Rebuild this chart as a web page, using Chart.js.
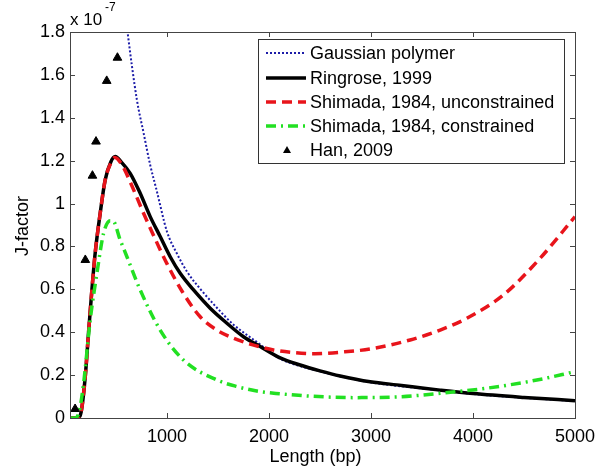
<!DOCTYPE html>
<html>
<head>
<meta charset="utf-8">
<script src="https://cdn.jsdelivr.net/npm/chart.js@4.4.1/dist/chart.umd.min.js"></script>
<style>
  body { margin: 0; background: #fff; }
  #wrap { width: 608px; height: 468px; position: relative; }
</style>
</head>
<body>
<div id="wrap"><canvas id="jChart"></canvas></div>
<script>
// values in units of 1e-7
const xTicks = [1000, 2000, 3000, 4000, 5000];
const yTicks = [0, 0.2, 0.4, 0.6, 0.8, 1, 1.2, 1.4, 1.6, 1.8];

const gaussLen = [590, 614, 706, 771, 836, 900, 1000, 1100, 1200, 1330, 1494, 1653, 1800, 1914, 2000, 2110, 2500, 3000, 3500, 4000, 4500, 5000];
const gaussJ = [1.9, 1.8, 1.483, 1.33, 1.18, 1.06, 0.87, 0.765, 0.68, 0.6, 0.512, 0.435, 0.382, 0.343, 0.31, 0.276, 0.218, 0.166, 0.138, 0.112, 0.094, 0.079];

const ringLen = [50, 130, 160, 199, 232, 265, 297, 346, 395, 451, 493, 560, 640, 738, 836, 934, 1032, 1130, 1261, 1424, 1588, 1751, 1914, 2110, 2306, 2500, 2698, 2992, 3300, 3500, 3678, 4000, 4500, 5000];
const ringJ = [0, 0, 0.03, 0.19, 0.40, 0.60, 0.77, 0.955, 1.11, 1.195, 1.219, 1.19, 1.141, 1.048, 0.939, 0.846, 0.752, 0.675, 0.597, 0.512, 0.442, 0.379, 0.333, 0.28, 0.247, 0.22, 0.196, 0.169, 0.152, 0.14, 0.13, 0.114, 0.096, 0.081];

const unconLen = [50, 130, 160, 199, 232, 265, 297, 346, 395, 451, 490, 560, 650, 771, 880, 1000, 1150, 1326, 1490, 1653, 1850, 2045, 2250, 2450, 2728, 2992, 3384, 3678, 3940, 4299, 4658, 5000];
const unconJ = [0, 0, 0.03, 0.19, 0.40, 0.60, 0.77, 0.955, 1.11, 1.19, 1.215, 1.18, 1.09, 0.955, 0.84, 0.72, 0.59, 0.472, 0.41, 0.372, 0.34, 0.317, 0.305, 0.30, 0.308, 0.322, 0.364, 0.41, 0.465, 0.574, 0.745, 0.939];

const conLen = [50, 100, 140, 183, 248, 314, 379, 444, 470, 542, 608, 738, 934, 1163, 1490, 1700, 1914, 2110, 2404, 2829, 3286, 3678, 4136, 4626, 5000];
const conJ = [0, 0, 0.03, 0.16, 0.457, 0.675, 0.861, 0.92, 0.92, 0.83, 0.752, 0.597, 0.41, 0.27, 0.177, 0.145, 0.123, 0.113, 0.102, 0.095, 0.099, 0.115, 0.139, 0.177, 0.216];

const hanLen = [100, 200, 270, 305, 410, 515];
const hanJ = [0.042, 0.737, 1.13, 1.289, 1.572, 1.68];

const FONT = "'Liberation Sans', Arial, sans-serif";

function pts(xs, ys) {
  return xs.map((x, i) => ({ x: x, y: ys[i] }));
}

const frame = {
  id: "frame",
  afterDraw(chart) {
    const c = chart.ctx;
    const a = chart.chartArea;
    const xs = chart.scales.x;
    const ys = chart.scales.y;
    c.save();
    c.strokeStyle = "#444";
    c.lineWidth = 1;
    c.strokeRect(a.left + 0.5, a.top + 0.5, a.right - a.left, a.bottom - a.top);
    c.beginPath();
    xTicks.forEach((v) => {
      const px = Math.round(xs.getPixelForValue(v)) + 0.5;
      c.moveTo(px, a.bottom); c.lineTo(px, a.bottom - 5);
      c.moveTo(px, a.top); c.lineTo(px, a.top + 5);
    });
    yTicks.forEach((v) => {
      const py = Math.round(ys.getPixelForValue(v)) + 0.5;
      c.moveTo(a.left, py); c.lineTo(a.left + 5, py);
      c.moveTo(a.right, py); c.lineTo(a.right - 5, py);
    });
    c.stroke();

    // axis titles and exponent
    c.fillStyle = "#000";
    c.font = "18px " + FONT;
    c.textAlign = "center";
    c.textBaseline = "middle";
    c.fillText("Length (bp)", (a.left + a.right) / 2 - 7, 457);
    c.save();
    c.translate(23, 226);
    c.rotate(-Math.PI / 2);
    c.fillText("J-factor", 0, 0);
    c.restore();
    c.textAlign = "left";
    c.font = "17px " + FONT;
    c.fillText("x 10", 70, 20);
    c.font = "12px " + FONT;
    c.fillText("-7", 105, 8);

    // legend
    const box = { l: 258, t: 39, r: 564, b: 163 };
    c.fillStyle = "#fff";
    c.fillRect(box.l, box.t, box.r - box.l, box.b - box.t);
    c.strokeStyle = "#333";
    c.strokeRect(box.l + 0.5, box.t + 0.5, box.r - box.l, box.b - box.t);
    const rowsY = [53, 78, 102, 126, 150];
    chart.data.datasets.forEach((ds, i) => {
      const y = rowsY[i];
      if (ds.showLine === false) {
        c.fillStyle = ds.pointBackgroundColor;
        c.beginPath();
        c.moveTo(287, y - 4); c.lineTo(291, y + 3); c.lineTo(283, y + 3);
        c.closePath(); c.fill();
      } else {
        c.strokeStyle = ds.borderColor;
        c.lineWidth = ds.borderWidth;
        c.setLineDash(ds.borderDash || []);
        c.beginPath(); c.moveTo(266, y); c.lineTo(306, y); c.stroke();
        c.setLineDash([]);
      }
      c.fillStyle = "#000";
      c.font = "18px " + FONT;
      c.fillText(ds.label, 310, y + 1);
    });
    c.restore();
  },
};

const lineBase = { pointRadius: 0, cubicInterpolationMode: "monotone", clip: 0 };

new Chart(document.getElementById("jChart"), {
  type: "line",
  data: {
    datasets: [
      Object.assign({
        label: "Gaussian polymer",
        data: pts(gaussLen, gaussJ),
        borderColor: "#1c1ca8",
        borderWidth: 2,
        borderDash: [2, 2],
        order: 5,
      }, lineBase),
      Object.assign({
        label: "Ringrose, 1999",
        data: pts(ringLen, ringJ),
        borderColor: "#000",
        borderWidth: 3.5,
        order: 4,
      }, lineBase),
      Object.assign({
        label: "Shimada, 1984, unconstrained",
        data: pts(unconLen, unconJ),
        borderColor: "#e8141b",
        borderWidth: 3.5,
        borderDash: [10, 6],
        order: 3,
      }, lineBase),
      Object.assign({
        label: "Shimada, 1984, constrained",
        data: pts(conLen, conJ),
        borderColor: "#22e022",
        borderWidth: 3.5,
        borderDash: [10, 5, 2, 5],
        order: 2,
      }, lineBase),
      {
        label: "Han, 2009",
        data: pts(hanLen, hanJ),
        showLine: false,
        pointStyle: "triangle",
        pointRadius: 5,
        pointBackgroundColor: "#000",
        pointBorderColor: "#000",
        borderColor: "#000",
        order: 1,
      },
    ],
  },
  options: {
    responsive: true,
    maintainAspectRatio: false,
    animation: false,
    layout: { padding: { top: 32, right: 33, left: 0, bottom: 0 } },
    scales: {
      x: {
        type: "linear",
        min: 50,
        max: 5000,
        afterFit: (s) => { s.height = 50; },
        afterBuildTicks: (s) => { s.ticks = xTicks.map((v) => ({ value: v })); },
        grid: { display: false, drawTicks: false },
        border: { display: false },
        ticks: {
          color: "#000", padding: 8, maxRotation: 0,
          font: { family: FONT, size: 18 },
          callback: (v) => String(v),
        },
      },
      y: {
        min: 0,
        max: 1.8,
        afterFit: (s) => { s.width = 70; },
        afterBuildTicks: (s) => { s.ticks = yTicks.map((v) => ({ value: v })); },
        grid: { display: false, drawTicks: false },
        border: { display: false },
        ticks: {
          color: "#000", padding: 5,
          font: { family: FONT, size: 18 },
          callback: (v) => String(Math.round(v * 10) / 10),
        },
      },
    },
    plugins: {
      legend: { display: false },
      tooltip: { enabled: false },
    },
  },
  plugins: [frame],
});
</script>
</body>
</html>
